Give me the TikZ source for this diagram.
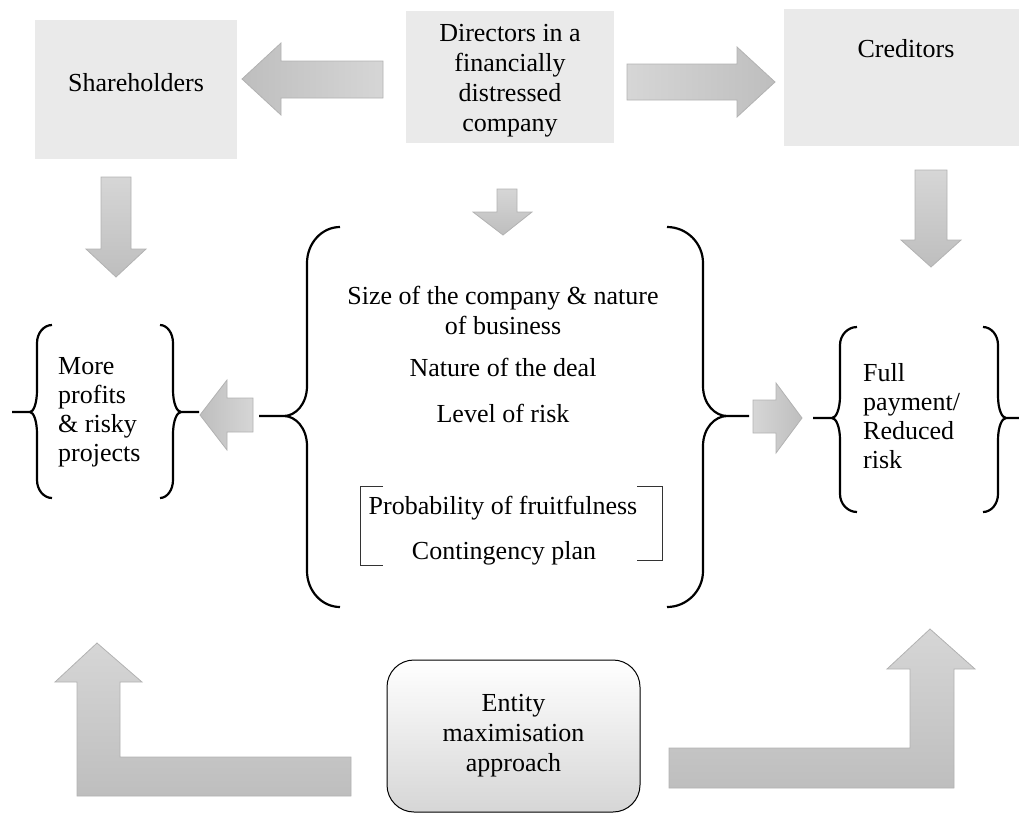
\documentclass[tikz,border=0pt]{standalone}
\usepackage{fontspec}
\setmainfont{Liberation Serif}
\definecolor{boxfill}{HTML}{EAEAEA}
\definecolor{arrowlight}{HTML}{D6D6D6}
\definecolor{arrowdark}{HTML}{BEBEBE}
\definecolor{arrowedge}{HTML}{B2B2B2}
\definecolor{bracketgray}{HTML}{333333}
% curly brace: curl end x, stem x, cusp x, tick end x, top y, middle y, bottom y, curl radius, cusp radius
\newcommand\bracepath[9]{%
  \draw[brace] (#1,#5) .. controls ({#1+0.55*(#2-#1)},#5) and (#2,{#5+0.45*#8}) .. (#2,{#5+#8})
    -- (#2,{#6-#9}) .. controls (#2,{#6-0.4*#9}) and ({#2+0.5*(#3-#2)},#6) .. (#3,#6) -- (#4,#6)
    (#3,#6) .. controls ({#2+0.5*(#3-#2)},#6) and (#2,{#6+0.4*#9}) .. (#2,{#6+#9})
    -- (#2,{#7-#8}) .. controls (#2,{#7-0.45*#8}) and ({#1+0.55*(#2-#1)},#7) .. (#1,#7);}
\begin{document}
\begin{tikzpicture}[x=1pt,y=-1pt,
  txt/.style={font=\fontsize{26}{30}\selectfont, inner sep=0pt, align=center},
  oneline/.style={txt, text height=18pt, text depth=6pt},
  greybox/.style={fill=boxfill, draw=none, inner sep=0pt},
  harrowL/.style={draw=arrowedge, line width=0.8pt, left color=arrowdark, right color=arrowlight},
  harrowR/.style={draw=arrowedge, line width=0.8pt, left color=arrowlight, right color=arrowdark},
  varrow/.style={draw=arrowedge, line width=0.8pt, top color=arrowlight, bottom color=arrowdark},
  brace/.style={draw=black, line width=2.2pt},
  bracket/.style={draw=bracketgray, line width=1pt},
  entitybox/.style={draw=black, line width=1pt, rounded corners=27pt,
    top color=white, bottom color=arrowlight, inner sep=0pt,
    minimum width=253pt, minimum height=152pt, align=center,
    font=\fontsize{26}{30}\selectfont}]
\useasboundingbox (0,0) rectangle (1019,812);
\clip (0,0) rectangle (1019,812);

% top row of boxes
\node[greybox, minimum width=202pt, minimum height=139pt] (shbox) at (136,89.5) {};
\node[oneline] (sh) at (136,85) {Shareholders};
\node[greybox, minimum width=208pt, minimum height=132pt] (dirbox) at (510,77) {};
\node[txt] (dir) at (510,81) {Directors in a\\financially\\distressed\\company};
\node[greybox, minimum width=250pt, minimum height=137pt] (crbox) at (909,77.5) {};
\node[oneline] (cr) at (906,51) {Creditors};

% block arrows leaving the directors
\draw[harrowL] (383,61) -- (281,61) -- (281,43) -- (242,79) -- (281,115) -- (281,98) -- (383,98) -- cycle;
\draw[harrowR] (627,64) -- (737,64) -- (737,47) -- (775,82) -- (737,117) -- (737,100) -- (627,100) -- cycle;

% downward arrows
\draw[varrow] (101,177) -- (131,177) -- (131,249) -- (146,249) -- (116,277) -- (86,249) -- (101,249) -- cycle;
\draw[varrow] (497,189) -- (517,189) -- (517,212) -- (532,212) -- (503,235) -- (473,212) -- (497,212) -- cycle;
\draw[varrow] (915,170) -- (947,170) -- (947,240) -- (961,240) -- (931,267) -- (901,240) -- (915,240) -- cycle;

% factors in the middle
\bracepath{340}{307}{284}{259}{227}{416}{607}{36}{30}
\bracepath{667}{703}{727}{749}{227}{416}{607}{36}{30}
\node[txt] (size) at (503,310) {Size of the company \& nature\\of business};
\node[oneline] (deal) at (503,370) {Nature of the deal};
\node[oneline] (risk) at (503,416) {Level of risk};
\node[oneline] (prob) at (503,508) {Probability of fruitfulness};
\node[oneline] (cont) at (504,553) {Contingency plan};
\draw[bracket] (383,486) -- (360,486) -- (360,565) -- (383,565);
\draw[bracket] (637,486) -- (662,486) -- (662,560) -- (637,560);

% shareholders' outcome
\draw[harrowL] (253,398) -- (227,398) -- (227,380) -- (200,415) -- (227,450) -- (227,432) -- (253,432) -- cycle;
\bracepath{52}{37}{30}{12}{325}{412}{498}{18}{22}
\bracepath{160}{173}{181}{199}{325}{412}{498}{18}{22}
\node[font=\fontsize{26}{29}\selectfont, inner sep=0pt, align=left, anchor=west] (more) at (58,412)
  {More\\profits\\\& risky\\projects};

% creditors' outcome
\draw[harrowR] (753,400) -- (776,400) -- (776,383) -- (802,418) -- (776,453) -- (776,433) -- (753,433) -- cycle;
\bracepath{857}{840}{832}{813}{327}{418}{512}{18}{22}
\bracepath{983}{998}{1006}{1025}{327}{418}{512}{18}{22}
\node[font=\fontsize{26}{29}\selectfont, inner sep=0pt, align=left, anchor=west] (full) at (863,416)
  {Full\\payment/\\Reduced\\risk};

% entity maximisation and the bent arrows
\node[entitybox] (ent) at (513.5,736) {Entity\\maximisation\\approach};
\draw[varrow] (97,643) -- (142,682) -- (120,682) -- (120,757) -- (351,757) -- (351,796) -- (77,796) -- (77,682) -- (55,682) -- cycle;
\draw[varrow] (930,629) -- (975,669) -- (954,669) -- (954,788) -- (669,788) -- (669,748) -- (910,748) -- (910,669) -- (887,669) -- cycle;
\end{tikzpicture}
\end{document}
